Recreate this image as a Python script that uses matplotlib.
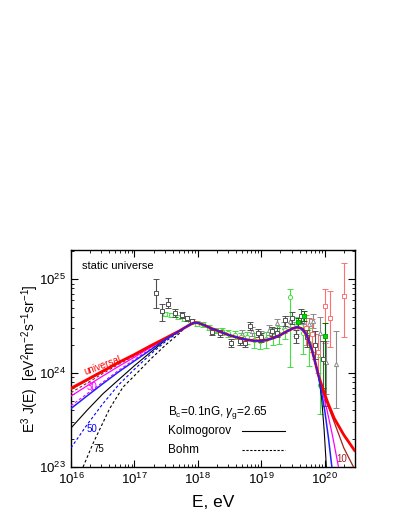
import numpy as np
import matplotlib
matplotlib.use('Agg')
import matplotlib.pyplot as plt
from matplotlib.ticker import LogLocator, NullFormatter

plt.rcParams['font.family'] = ['Liberation Sans', 'DejaVu Sans']
plt.rcParams['mathtext.fontset'] = 'custom'
plt.rcParams['mathtext.rm'] = 'Liberation Sans'
plt.rcParams['mathtext.it'] = 'Liberation Sans:italic'

# ---- model curves: log10(E/eV) and E^3 J in units of 1e24 ----
left_lgE = [16.0, 16.25, 16.5, 16.75, 17.0, 17.25, 17.5, 17.7]
univ_left = [0.69, 0.85, 1.05, 1.30, 1.58, 1.95, 2.38, 2.80]
brown_left = [0.67, 0.83, 1.03, 1.28, 1.56, 1.93, 2.37, 2.80]
brown_left_d = [0.62, 0.78, 0.99, 1.24, 1.53, 1.91, 2.36, 2.80]
mag_left = [0.57, 0.73, 0.93, 1.18, 1.48, 1.87, 2.35, 2.79]
mag_left_d = [0.45, 0.60, 0.80, 1.07, 1.40, 1.80, 2.30, 2.78]
blue_left = [0.42, 0.57, 0.77, 1.03, 1.35, 1.76, 2.32, 2.79]
blue_left_d = [0.16, 0.28, 0.47, 0.75, 1.10, 1.58, 2.20, 2.74]
black_left = [0.26, 0.40, 0.60, 0.85, 1.20, 1.66, 2.28, 2.78]
black_d_lgE = [16.19, 16.35, 16.61, 16.82, 16.98, 17.25, 17.5, 17.7]
black_left_d = [0.10, 0.18, 0.42, 0.71, 0.91, 1.40, 2.02, 2.62]

mid_lgE = [17.8, 17.9, 17.95, 18.0, 18.1, 18.2, 18.3, 18.4, 18.5, 18.6, 18.7,
           18.8, 18.9, 19.0, 19.1, 19.2, 19.3, 19.4, 19.5, 19.57, 19.65,
           19.72, 19.8, 19.85, 19.9]
mid_val = [3.07, 3.35, 3.45, 3.43, 3.25, 3.02, 2.85, 2.68, 2.53, 2.42, 2.32,
           2.25, 2.21, 2.21, 2.27, 2.38, 2.55, 2.78, 3.00, 3.10, 2.95,
           2.50, 1.75, 1.30, 0.95]

black_tail_lgE = [19.95, 19.99, 20.03]
black_tail = [0.55, 0.25, 0.09]
blue_tail_lgE = [19.95, 20.0, 20.06, 20.12]
blue_tail = [0.62, 0.40, 0.20, 0.09]
mag_tail_lgE = [19.96, 20.03, 20.12, 20.23]
mag_tail = [0.65, 0.42, 0.22, 0.09]
brown_tail_lgE = [19.97, 20.05, 20.15, 20.3, 20.47]
brown_tail = [0.65, 0.45, 0.30, 0.16, 0.095]
red_tail_lgE = [19.97, 20.05, 20.15, 20.3, 20.47]
red_tail = [0.68, 0.48, 0.33, 0.22, 0.15]

# ---- data points ----
sq_lgE = [17.34, 17.43, 17.53, 17.64, 17.75, 17.83, 17.9, 18.22, 18.35, 18.53,
          18.66, 18.74, 18.82, 18.94, 19.0, 19.17, 19.25, 19.37, 19.48, 19.54,
          19.62, 19.72, 19.85, 19.97]
sq_val = [7.1, 4.6, 5.5, 4.4, 4.2, 3.85, 3.6, 2.75, 2.65, 2.1,
          2.2, 2.1, 3.2, 2.7, 2.4, 2.8, 2.7, 3.65, 3.9, 2.5,
          4.1, 2.4, 2.0, 1.4]
sq_lo = [4.9, 3.6, 4.9, 4.0, 3.9, 3.6, 3.4, 2.55, 2.45, 1.9,
         2.0, 1.9, 2.9, 2.45, 2.15, 2.5, 2.4, 3.2, 3.3, 2.1,
         3.4, 1.9, 1.4, 0.7]
sq_hi = [10.0, 5.5, 6.3, 4.8, 4.5, 4.1, 3.8, 2.95, 2.85, 2.3,
         2.4, 2.3, 3.5, 2.95, 2.65, 3.1, 3.0, 4.1, 4.5, 2.9,
         4.8, 2.9, 2.8, 2.2]

ci_lgE = [17.48, 17.58, 17.68, 17.78, 17.88, 17.98, 18.08, 18.18, 18.28, 18.38,
          18.48, 18.58, 18.68, 18.78, 18.88, 18.98, 19.08, 19.18, 19.28, 19.38,
          19.45, 19.55, 19.65, 19.75, 19.92]
ci_val = [4.3, 4.15, 4.0, 3.75, 3.55, 3.35, 3.3, 3.05, 2.85, 2.8,
          2.65, 2.55, 2.4, 2.4, 2.25, 2.2, 2.3, 2.5, 2.6, 2.9,
          6.5, 3.3, 2.7, 2.1, 0.75]
ci_lo = [4.1, 3.95, 3.8, 3.55, 3.35, 3.15, 3.1, 2.85, 2.65, 2.55,
         2.4, 2.3, 2.1, 2.05, 1.85, 1.8, 1.85, 2.0, 2.05, 2.3,
         1.15, 2.6, 1.6, 1.2, 0.37]
ci_hi = [4.5, 4.35, 4.2, 3.95, 3.75, 3.55, 3.5, 3.25, 3.05, 3.05,
         2.9, 2.8, 2.7, 2.75, 2.65, 2.6, 2.75, 3.0, 3.15, 3.5,
         7.9, 4.0, 3.6, 3.0, 1.5]

tr_lgE = [18.7, 18.85, 19.0, 19.12, 19.25, 19.35, 19.45, 19.55, 19.65, 19.75,
          19.82, 19.93, 20.02, 20.17]
tr_val = [2.6, 2.8, 2.5, 2.9, 3.4, 3.1, 3.6, 3.0, 3.5, 3.3,
          3.6, 2.7, 1.3, 1.25]
tr_lo = [2.3, 2.5, 2.2, 2.55, 3.0, 2.7, 3.1, 2.5, 2.9, 2.7,
         3.0, 1.5, 0.6, 0.42]
tr_hi = [2.9, 3.1, 2.8, 3.25, 3.8, 3.5, 4.1, 3.5, 4.1, 3.9,
         4.3, 4.0, 2.2, 2.8]

rs_lgE = [19.7, 19.8, 19.9, 20.0, 20.09, 20.3]
rs_val = [3.0, 2.6, 1.7, 5.2, 3.9, 6.6]
rs_lo = [2.0, 1.7, 1.0, 2.1, 1.9, 2.4]
rs_hi = [4.2, 3.8, 2.6, 7.9, 7.5, 15.0]

gs_lgE = [19.58, 19.67, 20.0]
gs_val = [3.5, 4.1, 2.5]
gs_lo = [3.1, 3.6, 0.45]
gs_hi = [3.9, 4.6, 3.4]

fig = plt.figure(figsize=(4.09, 5.29), dpi=100)
ax = fig.add_axes([0.1736, 0.1172, 0.6944, 0.4102])


def errpts(lgE, val, lo, hi, **kw):
    E = 10 ** np.array(lgE)
    v = np.array(val) * 1e24
    yerr = [v - np.array(lo) * 1e24, np.array(hi) * 1e24 - v]
    ax.errorbar(E, v, yerr=yerr, capsize=2, elinewidth=0.8, capthick=0.8,
                markersize=3, markeredgewidth=0.7, linestyle='none', **kw)


errpts(tr_lgE, tr_val, tr_lo, tr_hi, fmt='^', color='#8a8a8a', mfc='white', zorder=2)
errpts(rs_lgE, rs_val, rs_lo, rs_hi, fmt='s', color='#ff7070', mfc='white', zorder=2)
errpts(ci_lgE, ci_val, ci_lo, ci_hi, fmt='o', color='#44e044', mfc='white', zorder=2)
errpts(sq_lgE, sq_val, sq_lo, sq_hi, fmt='s', color='#505050', mfc='white', zorder=3)
errpts(gs_lgE, gs_val, gs_lo, gs_hi, fmt='s', color='#006a00', mfc='#00dd00', mec='#00aa00', zorder=3)


def curve(l_lgE, l_val, t_lgE, t_val, **kw):
    lgE = np.concatenate([l_lgE, mid_lgE, t_lgE])
    val = np.concatenate([l_val, mid_val, t_val])
    ax.plot(10 ** lgE, val * 1e24, **kw)


curve(left_lgE, black_left, black_tail_lgE, black_tail, color='black', lw=0.8, zorder=4)
curve(black_d_lgE, black_left_d, [], [], color='black', lw=0.8, ls=(0, (2.5, 2)), zorder=4)
curve(left_lgE, blue_left_d, [], [], color='blue', lw=0.8, ls=(0, (2.5, 2)), zorder=4)
curve(left_lgE, mag_left_d, [], [], color='magenta', lw=0.8, ls=(0, (2.5, 2)), zorder=4)
curve(left_lgE, brown_left_d, [], [], color='#a02020', lw=0.8, ls=(0, (2.5, 2)), zorder=4)
curve(left_lgE, mag_left, mag_tail_lgE, mag_tail, color='magenta', lw=0.9, zorder=4)
curve(left_lgE, brown_left, brown_tail_lgE, brown_tail, color='#a02020', lw=0.9, zorder=4)
curve(left_lgE, univ_left, red_tail_lgE, red_tail, color='red', lw=2.0, zorder=5)
curve(left_lgE, blue_left, blue_tail_lgE, blue_tail, color='#2020ff', lw=1.1, zorder=6)

ax.set_xscale('log')
ax.set_yscale('log')
ax.set_xlim(1e16, 3e20)
ax.set_ylim(1e23, 2.05e25)

ax.xaxis.set_major_locator(LogLocator(base=10, numticks=10))
ax.xaxis.set_minor_locator(LogLocator(base=10, subs=np.arange(2, 10), numticks=20))
ax.yaxis.set_minor_locator(LogLocator(base=10, subs=np.arange(2, 10), numticks=20))
ax.xaxis.set_minor_formatter(NullFormatter())
ax.yaxis.set_minor_formatter(NullFormatter())
ax.tick_params(which='both', direction='in', top=True, right=True, labelsize=9.5)
ax.tick_params(which='major', length=5, width=0.8)
ax.tick_params(which='minor', length=2.5, width=0.6)
for s in ax.spines.values():
    s.set_linewidth(1.0)

ax.set_xlabel('E, eV', fontsize=12.5, labelpad=6)
ax.set_ylabel(r'E$^3$ J(E)  [eV$^2$m$^{-2}$s$^{-1}$sr$^{-1}$]', fontsize=10)
ax.yaxis.set_label_coords(-0.105, 0.5)

ax.text(0.04, 0.925, 'static universe', transform=ax.transAxes, fontsize=8, va='center')
ax.text(0.342, 0.253, r'B$_\mathrm{c}$=0.1nG, $\gamma_\mathrm{g}$=2.65', transform=ax.transAxes,
        fontsize=8.5, va='center')
ax.text(0.342, 0.166, 'Kolmogorov', transform=ax.transAxes, fontsize=8.5, va='center')
ax.text(0.342, 0.078, 'Bohm', transform=ax.transAxes, fontsize=8.5, va='center')
ax.plot([0.602, 0.754], [0.166, 0.166], transform=ax.transAxes, color='black', lw=0.8)
ax.plot([0.602, 0.754], [0.078, 0.078], transform=ax.transAxes, color='black', lw=0.8,
        ls=(0, (2, 1.5)))

ax.text(0.112, 0.468, 'universal', transform=ax.transAxes, fontsize=7, color='red',
        rotation=20, ha='center', va='center')
ax.text(0.056, 0.369, '30', transform=ax.transAxes, fontsize=7, color='magenta', va='center')
ax.text(0.056, 0.175, '50', transform=ax.transAxes, fontsize=7, color='blue', va='center')
ax.text(0.078, 0.083, '75', transform=ax.transAxes, fontsize=7, color='black', va='center')
ax.text(0.935, 0.035, '10', transform=ax.transAxes, fontsize=7, color='#a02020', va='center')

fig.savefig('out.png', dpi=100)
